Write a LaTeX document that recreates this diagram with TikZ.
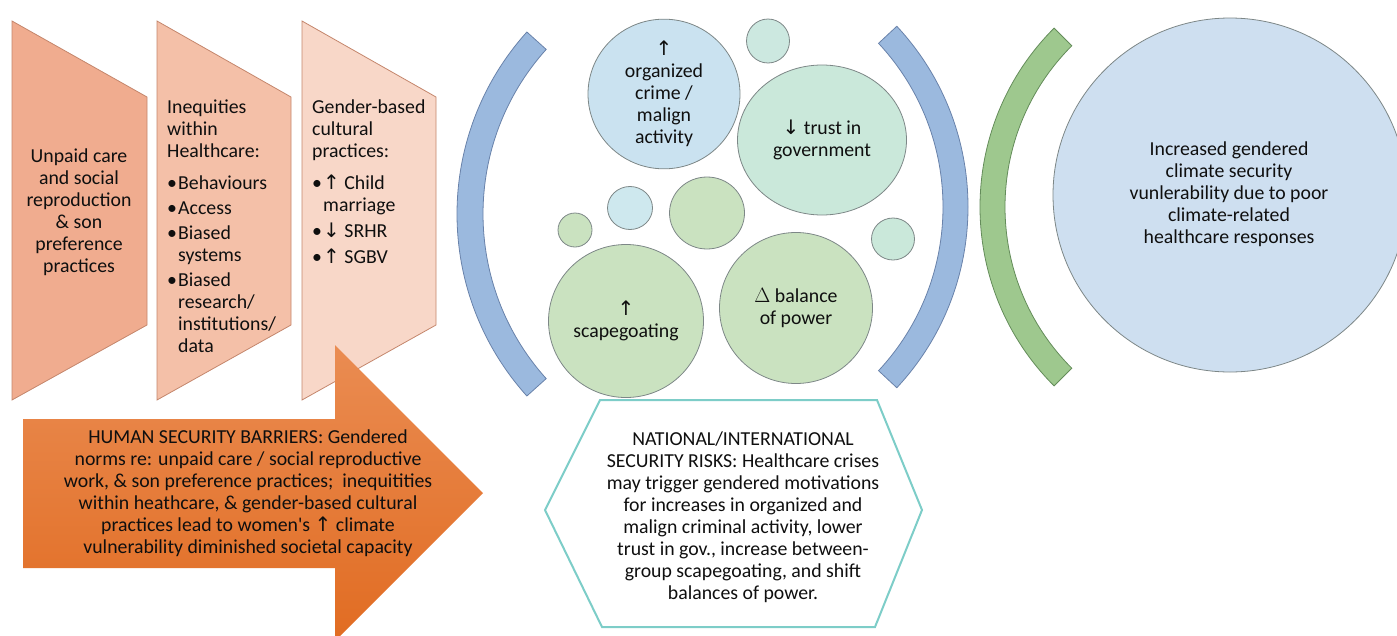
\documentclass[tikz,border=0pt]{standalone}
\usepackage{fontspec}
\setmainfont{Carlito}
\newfontfamily\arrfont{DejaVu Sans}
\usetikzlibrary{calc,shapes.geometric}
\definecolor{chA}{RGB}{240,172,143}
\definecolor{chB}{RGB}{244,192,168}
\definecolor{chC}{RGB}{248,215,200}
\definecolor{chline}{RGB}{196,134,108}
\definecolor{arrtop}{RGB}{234,140,82}
\definecolor{arrbot}{RGB}{225,108,34}
\definecolor{blarc}{RGB}{155,185,222}
\definecolor{blarcline}{RGB}{105,130,170}
\definecolor{grarc}{RGB}{158,200,142}
\definecolor{grarcline}{RGB}{100,140,90}
\definecolor{bigc}{RGB}{206,223,240}
\definecolor{bubline}{RGB}{125,135,135}
\definecolor{cBlue}{RGB}{202,226,240}
\definecolor{cTeal}{RGB}{204,232,224}
\definecolor{cTealG}{RGB}{202,232,218}
\definecolor{cGreen}{RGB}{202,226,192}
\definecolor{cLblue}{RGB}{206,232,238}
\definecolor{hexline}{RGB}{125,205,200}
\definecolor{txt}{RGB}{15,15,15}
\newcommand\myup{{\arrfont\fontsize{20}{22}\selectfont ↑}}
\newcommand\mydn{{\arrfont\fontsize{20}{22}\selectfont ↓}}
\newcommand\bul{\makebox[11pt][l]{\textbullet}}
\newcommand\ind{\hspace*{11pt}}
\tikzset{
  every node/.style={font=\fontsize{19.8}{22}\selectfont, inner sep=0pt, text=txt},
  chev/.style={draw=chline, line width=0.8pt},
  bub/.style={draw=bubline, line width=0.8pt, ellipse, inner sep=0pt, align=center},
}
\begin{document}
\begin{tikzpicture}[x=1pt,y=-1pt]
\useasboundingbox (0,0) rectangle (1397,635);
\clip (0,0) rectangle (1397,635);

% chevrons
\draw[chev, fill=chA] (12,21) -- (147,97) -- (147,325) -- (12,400) -- cycle;
\draw[chev, fill=chB] (157,21) -- (291,97) -- (291,325) -- (157,400) -- cycle;
\draw[chev, fill=chC] (302,21) -- (436,97) -- (436,325) -- (302,400) -- cycle;

\node[align=center] (unpaid) at (79,212) {Unpaid care\\and social\\reproduction\\\& son\\preference\\practices};
\node[align=left, anchor=west] (ineq) at (167,226) {Inequities\\within\\Healthcare:\\[10pt]\bul Behaviours\\[3pt]\bul Access\\[3pt]\bul Biased\\\ind systems\\[3pt]\bul Biased\\\ind research/\\\ind institutions/\\\ind data};
\node[align=left, anchor=west] (gender) at (312,182) {Gender-based\\cultural\\practices:\\[10pt]\bul\myup\ Child\\\ind marriage\\[4pt]\bul\mydn\ SRHR\\[4pt]\bul\myup\ SGBV};

% big arrow
\shade[top color=arrtop, bottom color=arrbot] (23,419) -- (335,419) -- (335,345) -- (483,493) -- (335,641) -- (335,568) -- (23,568) -- cycle;
\node[align=center] (hsb) at (248,493) {HUMAN SECURITY BARRIERS: Gendered\\norms re: unpaid care / social reproductive\\work, \& son preference practices;\ \ inequitities\\within heathcare, \& gender-based cultural\\practices lead to women\textquotesingle s \myup\ climate\\vulnerability diminished societal capacity};

% blue brackets
\draw[fill=blarc, draw=blarcline, line width=0.8pt] ($(729,214)+(138:272)$) arc[start angle=138, end angle=222, radius=272] -- ($(729,214)+(222:246)$) arc[start angle=222, end angle=138, radius=246] -- cycle;
\draw[fill=blarc, draw=blarcline, line width=0.8pt] ($(703,207)+(-43:265)$) arc[start angle=-43, end angle=43, radius=265] -- ($(703,207)+(43:240)$) arc[start angle=43, end angle=-43, radius=240] -- cycle;

% bubbles
\node[bub, fill=cBlue, minimum width=152pt, minimum height=144pt] (crime) at (664,94) {\myup\\organized\\crime /\\malign\\activity};
\node[bub, fill=cTeal, minimum width=43pt, minimum height=44pt] (b1) at (768,41) {};
\node[bub, fill=cTealG, minimum width=169pt, minimum height=150pt] (trust) at (822,140) {\mydn\ trust in\\government};
\node[bub, fill=cGreen, minimum width=34pt, minimum height=34pt] (b2) at (575,230) {};
\node[bub, fill=cLblue, minimum width=45pt, minimum height=43pt] (b3) at (630,208) {};
\node[bub, fill=cGreen, minimum width=75pt, minimum height=72pt] (b4) at (707,213) {};
\node[bub, fill=cTealG, minimum width=43pt, minimum height=42pt] (b5) at (893,239) {};
\node[bub, fill=cGreen, minimum width=155pt, minimum height=153pt] (scape) at (626,321) {\myup\\scapegoating};
\node[bub, fill=cGreen, minimum width=153pt, minimum height=151pt] (power) at (796,308) {$\Delta$ balance\\of power};

% hexagon
\draw[draw=hexline, line width=2pt, fill=white] (545,510) -- (600,400) -- (877,400) -- (922,510) -- (875,627) -- (602,627) -- cycle;
\node[align=center] (risks) at (743,517) {NATIONAL/INTERNATIONAL\\SECURITY RISKS: Healthcare crises\\may trigger gendered motivations\\for increases in organized and\\malign criminal activity, lower\\trust in gov., increase between-\\group scapegoating, and shift\\balances of power.};

% green bracket
\draw[fill=grarc, draw=grarcline, line width=0.8pt] ($(1233,207)+(135:253)$) arc[start angle=135, end angle=225, radius=253] -- ($(1233,207)+(225:228)$) arc[start angle=225, end angle=135, radius=228] -- cycle;

% big circle
\node[circle, draw=bubline, line width=0.8pt, fill=bigc, minimum size=354pt] (big) at (1230,195) {};
\node[align=center] (bigtxt) at (1229,194) {Increased gendered\\climate security\\vunlerability due to poor\\climate-related\\healthcare responses};
\end{tikzpicture}
\end{document}
